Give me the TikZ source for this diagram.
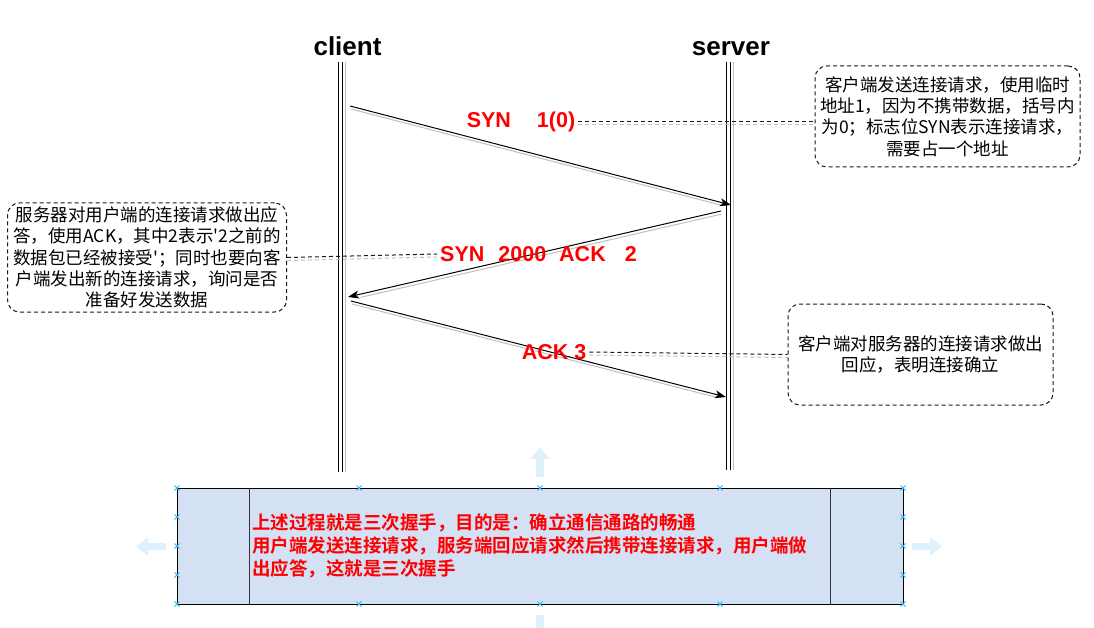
\documentclass[tikz,border=0pt]{standalone}
\usepackage{fontspec}
\setmainfont{Liberation Sans}
\newfontfamily\cjk{Noto Sans CJK SC}[BoldFont={Noto Sans CJK SC Bold}]
\usetikzlibrary{arrows.meta}
\definecolor{boxfill}{RGB}{212,225,245}
\definecolor{handleblue}{RGB}{41,182,242}
\definecolor{handlepale}{RGB}{222,241,252}

\begin{document}
\begin{tikzpicture}[x=1pt,y=-1pt,
    lane/.style={black,line width=0.8pt},
    laneshadow/.style={black!25,line width=0.8pt},
    msg/.style={black,line width=1pt,-{Stealth[length=11pt,width=8pt,inset=3pt]}},
    msgshadow/.style={black!25,line width=1pt,shorten >=12pt},
    msglabel/.style={text=red,font=\fontsize{21.5}{24}\selectfont\bfseries},
    title/.style={anchor=base,font=\fontsize{26}{30}\selectfont\bfseries},
    note/.style={draw=black!90,dash pattern=on 4pt off 3pt,line width=1pt,rounded corners=12pt,align=center,font=\cjk\fontsize{17.5}{21.3}\selectfont},
    link/.style={black!90,dash pattern=on 4pt off 3pt,line width=1pt},
    linkshadow/.style={black!25,dash pattern=on 4pt off 3pt,line width=1pt},
    handle/.style={handleblue,line width=0.8pt},
    grip/.style={handlepale,line width=7.5pt,-{Triangle[length=12pt,width=18pt]}}]
        \tikzstyle{every node}+=[inner sep=0pt]
        \useasboundingbox (0,0) rectangle (1094,628);
        \node (client) at (347.5,56) [title] {client};
        \node (server) at (731,56) [title] {server};
        \coordinate (ctop) at (340.5,62);
        \coordinate (cbot) at (340.5,472);
        \coordinate (stop) at (728,62);
        \coordinate (sbot) at (728,470);
        \draw [laneshadow] ([xshift=5]ctop) -- ([xshift=5]cbot);
        \draw [lane] ([xshift=-2]ctop) -- ([xshift=-2]cbot);
        \draw [lane] ([xshift=2]ctop) -- ([xshift=2]cbot);
        \draw [laneshadow] ([xshift=5]stop) -- ([xshift=5]sbot);
        \draw [lane] ([xshift=-2]stop) -- ([xshift=-2]sbot);
        \draw [lane] ([xshift=2]stop) -- ([xshift=2]sbot);
        \coordinate (c1) at (350,106);
        \coordinate (s1) at (731,205);
        \coordinate (s2) at (721,211);
        \coordinate (c2) at (348,297);
        \coordinate (c3) at (351,301);
        \coordinate (s3) at (726,397);
        \draw [msgshadow] ([shift={(1,3)}]c1) -- ([shift={(1,3)}]s1);
        \draw [msg] (c1) -- (s1);
        \draw [msgshadow] ([shift={(1,3)}]s2) -- ([shift={(1,3)}]c2);
        \draw [msg] (s2) -- (c2);
        \draw [msgshadow] ([shift={(1,3)}]c3) -- ([shift={(1,3)}]s3);
        \draw [msg] (c3) -- (s3);
        \node (syn1) at (521,122) [msglabel] {SYN\hspace{26pt}1(0)};
        \node (syn2) at (538.5,254) [msglabel] {SYN\hspace{14pt}2000\hspace{13pt}ACK\hspace{19pt}2};
        \node (ack3) at (554,352) [msglabel] {ACK 3};
        \node (note1) at (947.5,116.5) [note,minimum width=265,minimum height=101] {客户端发送连接请求，使用临时\\地址1，因为不携带数据，括号内\\为0；标志位SYN表示连接请求，\\需要占一个地址};
        \node (note2) at (147,257.5) [note,minimum width=279,minimum height=109] {服务器对用户端的连接请求做出应\\答，使用ACK，其中2表示'2之前的\\数据包已经被接受'；同时也要向客\\户端发出新的连接请求，询问是否\\准备好发送数据};
        \node (note3) at (920.5,354.5) [note,minimum width=265,minimum height=101] {客户端对服务器的连接请求做出\\回应，表明连接确立};
        \draw [linkshadow] ([shift={(3,3)}]syn1.east) -- ([shift={(0,3)}]syn1.east -| note1.west);
        \draw [link] ([xshift=3]syn1.east) -- (syn1.east -| note1.west);
        \draw [linkshadow] ([shift={(0,3)}]note2.east) -- ([shift={(-3,3)}]syn2.west);
        \draw [link] (note2.east) -- ([xshift=-3]syn2.west);
        \draw [linkshadow] ([shift={(3,3)}]ack3.east) -- ([shift={(0,3)}]note3.west);
        \draw [link] ([xshift=3]ack3.east) -- (note3.west);
        \node (summary) at (540,546) [draw=black,fill=boxfill,line width=0.8pt,minimum width=726,minimum height=116] {};
        \draw [black!80,line width=0.8pt] ([xshift=73]summary.north west) -- ([xshift=73]summary.south west);
        \draw [black!80,line width=0.8pt] ([xshift=-73]summary.north east) -- ([xshift=-73]summary.south east);
        \node (summarytext) at (252,546) [anchor=west,align=left,text=red,font=\cjk\bfseries\fontsize{18.5}{23}\selectfont] {上述过程就是三次握手，目的是：确立通信通路的畅通\\用户端发送连接请求，服务端回应请求然后携带连接请求，用户端做\\出应答，这就是三次握手};
        \foreach \hx/\hy in {177/488,359/488,540/488,720/488,903/488,177/604,359/604,540/604,720/604,903/604,177/517,177/546,177/575,903/517,903/546,903/575}
            \draw [handle] (\hx-2.5,\hy-2.5) -- (\hx+2.5,\hy+2.5) (\hx-2.5,\hy+2.5) -- (\hx+2.5,\hy-2.5);
        \draw [grip] (540,477) -- (540,447);
        \draw [handlepale,line width=7.5pt] (540,615) -- (540,628);
        \draw [grip] (166,546.5) -- (136,546.5);
        \draw [grip] (912,546.5) -- (942,546.5);
\end{tikzpicture}
\end{document}
